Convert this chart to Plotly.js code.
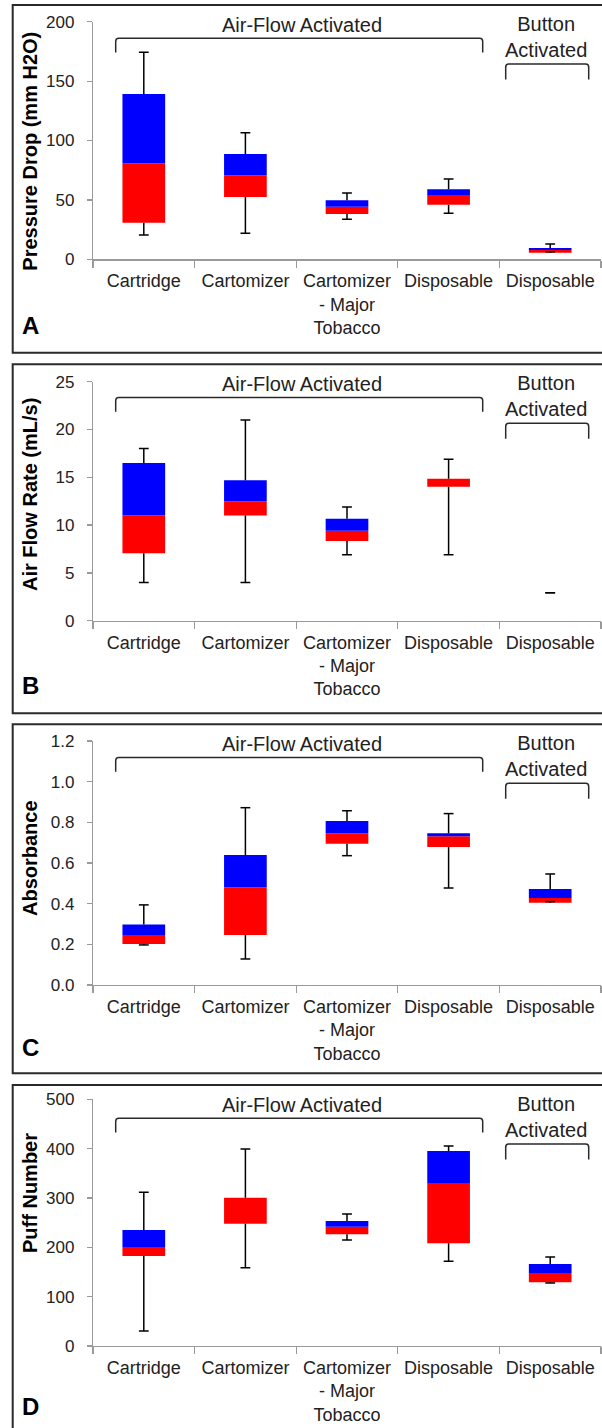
<!DOCTYPE html>
<html>
<head>
<meta charset="utf-8">
<script src="https://cdn.plot.ly/plotly-3.0.1.min.js"></script>
<style>
  html, body { margin: 0; padding: 0; background: #fff; }
  #chart { width: 602px; height: 1428px; }
</style>
</head>
<body>
<div id="chart"></div>
<script>
// ---------- data ----------
const categories = ["Cartridge", "Cartomizer", "Cartomizer<br>- Major<br>Tobacco", "Disposable", "Disposable"];
const groupLabels = ["Air-Flow Activated", "Button<br>Activated"];

const panelLetters = ["A", "B", "C", "D"];
const yTitles = ["Pressure Drop (mm H2O)", "Air Flow Rate (mL/s)", "Absorbance", "Puff Number"];
const yRanges = [[0, 200], [0, 25], [0, 1.2], [0, 500]];
const yDticks = [50, 5, 0.2, 100];
const yFormats = ["d", "d", ".1f", "d"];

// Panel A: pressure drop
const pdMin = [20.5, 21.9, 33.7, 38.7, 6.4];
const pdQ1 = [30.8, 52.4, 38.1, 46.0, 5.6];
const pdMed = [80.8, 70.7, 44.3, 53.5, 7.8];
const pdQ3 = [139.1, 88.6, 49.7, 58.9, 9.5];
const pdMax = [174.2, 106.6, 55.8, 67.6, 12.9];

// Panel B: air flow rate
const afMin = [4.0, 4.0, 6.9, 6.9, 2.93];
const afQ1 = [7.05, 11.0, 8.34, 14.0, 2.93];
const afMed = [11.0, 12.5, 9.4, 14.85, 2.93];
const afQ3 = [16.5, 14.7, 10.67, 14.85, 2.93];
const afMax = [18.0, 21.0, 11.9, 16.9, 2.93];

// Panel C: absorbance
const abMin = [0.197, 0.128, 0.636, 0.477, 0.41];
const abQ1 = [0.202, 0.246, 0.695, 0.679, 0.405];
const abMed = [0.246, 0.481, 0.746, 0.731, 0.428];
const abQ3 = [0.297, 0.639, 0.807, 0.746, 0.472];
const abMax = [0.394, 0.872, 0.857, 0.843, 0.546];

// Panel D: puff number
const pnMin = [30.4, 158.8, 214.9, 171.7, 127.7];
const pnQ1 = [182.4, 248.0, 226.4, 208.2, 129.1];
const pnMed = [200.7, 300.7, 241.9, 329.0, 148.0];
const pnQ3 = [235.1, 300.7, 253.4, 395.3, 166.2];
const pnMax = [311.6, 399.4, 267.6, 405.4, 180.4];

const panels = [
  {min: pdMin, q1: pdQ1, med: pdMed, q3: pdQ3, max: pdMax},
  {min: afMin, q1: afQ1, med: afMed, q3: afQ3, max: afMax},
  {min: abMin, q1: abQ1, med: abMed, q3: abQ3, max: abMax},
  {min: pnMin, q1: pnQ1, med: pnMed, q3: pnQ3, max: pnMax}
];

// ---------- layout geometry (pixels) ----------
const W = 602, H = 1428;
const plotX = [93, 601];
const plotY = [[21.7, 259.3], [381.7, 620.7], [741, 985], [1099.3, 1346]];
const boxTop = [5, 364.3, 724.3, 1085];
const boxBottom = [352.7, 713.3, 1073.3, 1432];
const yTitleCenter = [151.7, 495, 858, 1193];
const letterCenter = [325.5, 685.5, 1047, 1406];

const px = v => v / W;
const py = v => 1 - v / H;

const FONT = "'Liberation Sans', Arial, sans-serif";
const RED = "#ff0000", BLUE = "#0000ff";
const AXIS = "#9a9a9a";

const xIdx = categories.map((_, i) => i);
const traces = [];
const layout = {
  width: W, height: H,
  margin: {l: 0, r: 0, t: 0, b: 0},
  paper_bgcolor: "#ffffff",
  plot_bgcolor: "rgba(0,0,0,0)",
  showlegend: false,
  barmode: "overlay",
  shapes: [],
  annotations: []
};

panels.forEach((p, k) => {
  const n = k === 0 ? "" : String(k + 1);
  const xa = "x" + n, ya = "y" + n;

  traces.push({
    type: "bar", x: xIdx, base: p.q1, y: p.med.map((m, i) => m - p.q1[i]),
    xaxis: xa, yaxis: ya, width: 0.42,
    marker: {color: RED, line: {width: 0}}, hoverinfo: "skip"
  });
  traces.push({
    type: "bar", x: xIdx, base: p.med, y: p.q3.map((q, i) => q - p.med[i]),
    xaxis: xa, yaxis: ya, width: 0.42,
    marker: {color: BLUE, line: {width: 0}}, hoverinfo: "skip"
  });
  // whiskers
  const wx = [], wy = [];
  xIdx.forEach(i => {
    wx.push(i, i, null, i, i, null);
    wy.push(p.q3[i], p.max[i], null, p.q1[i], p.min[i], null);
  });
  traces.push({
    type: "scatter", mode: "lines", x: wx, y: wy, xaxis: xa, yaxis: ya,
    line: {color: "#000", width: 1.5}, hoverinfo: "skip", connectgaps: false
  });
  traces.push({
    type: "scatter", mode: "markers", x: xIdx.concat(xIdx), y: p.max.concat(p.min),
    xaxis: xa, yaxis: ya,
    marker: {symbol: "line-ew", size: 7, line: {color: "#000", width: 1.5}},
    hoverinfo: "skip"
  });

  const dom = [py(plotY[k][1]), py(plotY[k][0])];
  layout["xaxis" + n] = {
    domain: [px(plotX[0]), px(plotX[1])], anchor: ya,
    range: [-0.5, 4.5], fixedrange: true,
    tickmode: "array", tickvals: xIdx, ticktext: categories,
    ticks: "", showgrid: false, zeroline: false,
    showline: true, linecolor: AXIS, linewidth: 1.2,
    tickfont: {family: FONT, size: 18, color: "#222"},
    ticklabelstandoff: 5,
    minor: {tickvals: [-0.5, 0.5, 1.5, 2.5, 3.5, 4.5], ticks: "outside", ticklen: 7, tickcolor: AXIS, tickwidth: 1.2, showgrid: false}
  };
  layout["yaxis" + n] = {
    domain: dom, anchor: xa, range: yRanges[k], fixedrange: true,
    tickmode: "linear", tick0: 0, dtick: yDticks[k], tickformat: yFormats[k],
    ticks: "outside", ticklen: 5, tickcolor: AXIS, tickwidth: 1.2,
    showgrid: false, zeroline: false,
    showline: true, linecolor: AXIS, linewidth: 1.2,
    tickfont: {family: FONT, size: 17, color: "#222"},
    ticklabelstandoff: 9
  };

  // panel border
  layout.shapes.push({
    type: "rect", xref: "paper", yref: "paper",
    x0: px(12.7), x1: px(606), y0: py(boxBottom[k]), y1: py(boxTop[k]),
    line: {color: "#2a2a2a", width: 2}, fillcolor: "rgba(0,0,0,0)", layer: "below"
  });

  const t = boxTop[k];
  // Air-flow bracket
  layout.shapes.push({
    type: "path", xref: "paper", yref: "paper",
    path: `M ${px(115.7)} ${py(t + 47.5)} L ${px(115.7)} ${py(t + 36.5)} Q ${px(115.7)} ${py(t + 33.3)} ${px(118.7)} ${py(t + 33.3)} L ${px(479.7)} ${py(t + 33.3)} Q ${px(482.7)} ${py(t + 33.3)} ${px(482.7)} ${py(t + 36.5)} L ${px(482.7)} ${py(t + 47.5)}`,
    line: {color: "#2a2a2a", width: 1.5}
  });
  // Button bracket
  layout.shapes.push({
    type: "path", xref: "paper", yref: "paper",
    path: `M ${px(505.7)} ${py(t + 74.5)} L ${px(505.7)} ${py(t + 62.2)} Q ${px(505.7)} ${py(t + 59)} ${px(508.7)} ${py(t + 59)} L ${px(585.7)} ${py(t + 59)} Q ${px(588.7)} ${py(t + 59)} ${px(588.7)} ${py(t + 62.2)} L ${px(588.7)} ${py(t + 74.5)}`,
    line: {color: "#2a2a2a", width: 1.5}
  });

  layout.annotations.push({
    xref: "paper", yref: "paper", x: px(302), y: py(t + 19.5),
    xanchor: "center", yanchor: "middle", showarrow: false,
    text: groupLabels[0],
    font: {family: FONT, size: 20, color: "#222"}
  });
  layout.annotations.push({
    xref: "paper", yref: "paper", x: px(546), y: py(t + 31.5),
    xanchor: "center", yanchor: "middle", showarrow: false,
    text: groupLabels[1],
    font: {family: FONT, size: 20, color: "#222"}
  });
  layout.annotations.push({
    xref: "paper", yref: "paper", x: px(30), y: py(yTitleCenter[k]),
    xanchor: "center", yanchor: "middle", showarrow: false, textangle: -90,
    text: yTitles[k],
    font: {family: FONT, size: 20, color: "#000", weight: "bold"}
  });
  layout.annotations.push({
    xref: "paper", yref: "paper", x: px(30), y: py(letterCenter[k]),
    xanchor: "center", yanchor: "middle", showarrow: false,
    text: panelLetters[k],
    font: {family: FONT, size: 24, color: "#000", weight: "bold"}
  });
});

Plotly.newPlot("chart", traces, layout, {staticPlot: true, displayModeBar: false});
</script>
</body>
</html>
